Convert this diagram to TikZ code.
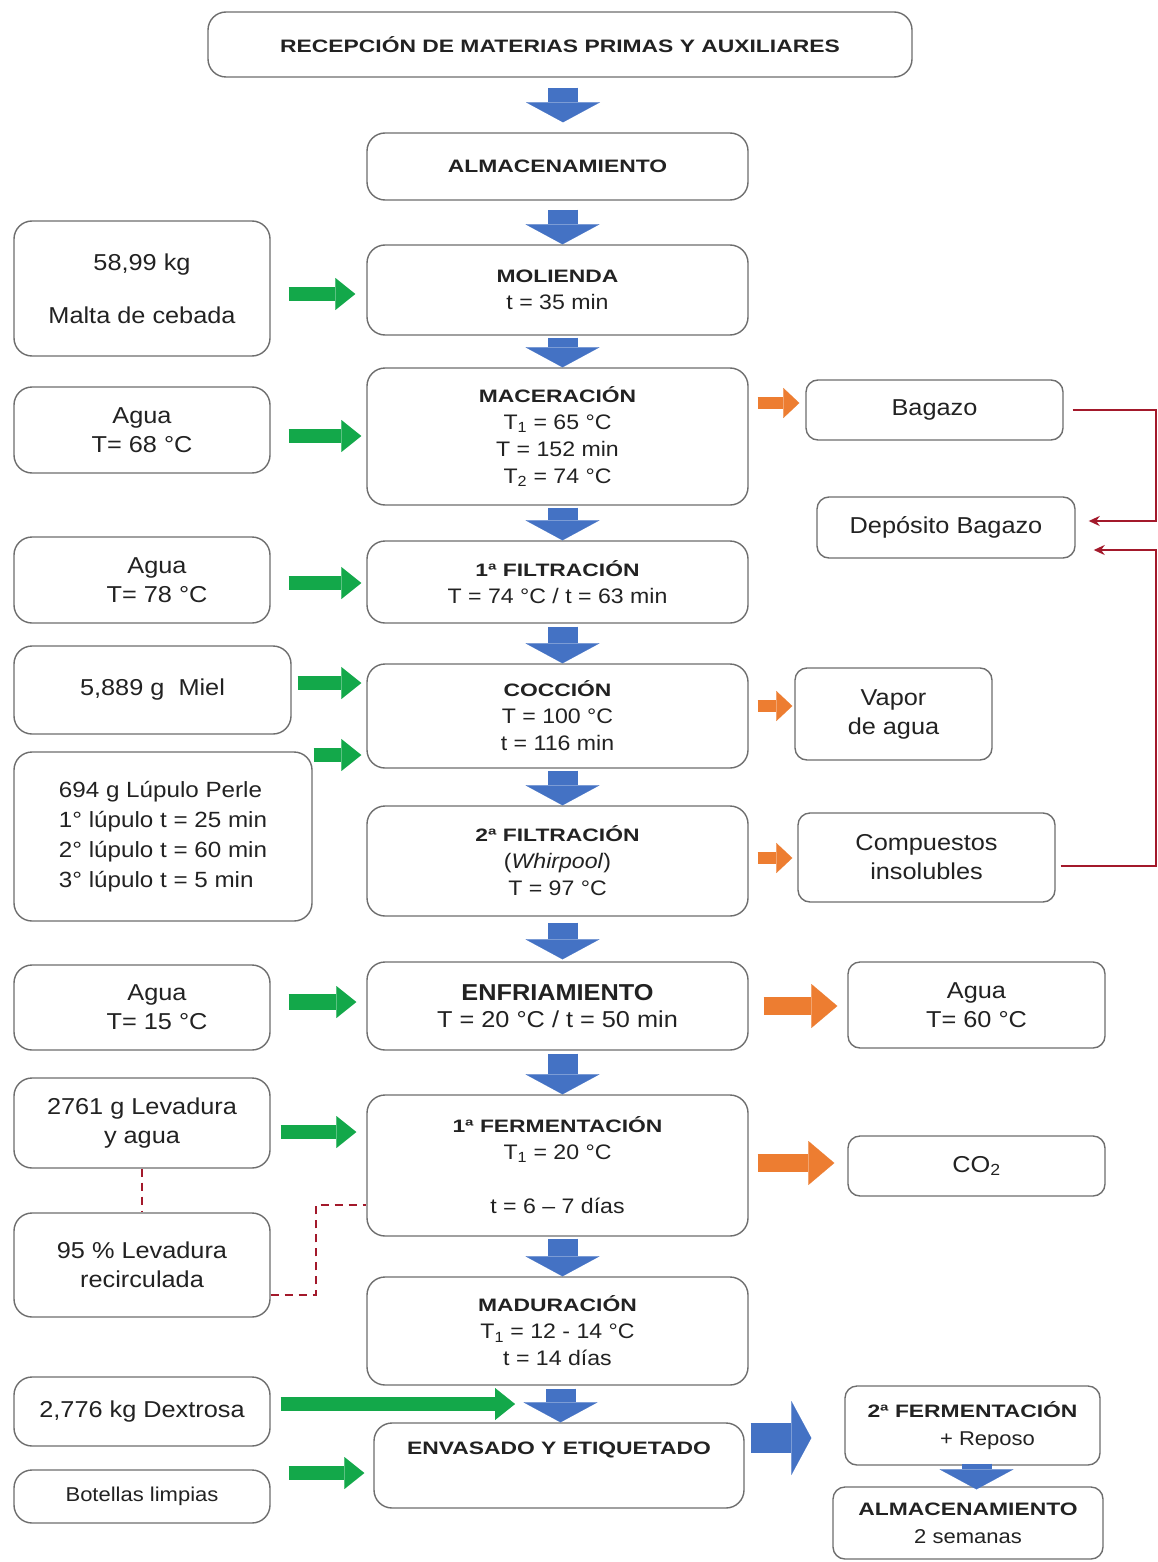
\documentclass[tikz,border=0pt]{standalone}
\usepackage{fontspec}
\setmainfont{Liberation Sans}[FakeStretch=1.1]
\newfontfamily\bfont{Liberation Sans}[FakeStretch=1.27]
\usetikzlibrary{arrows.meta}
\newcommand\tb[1]{{\bfont\bfseries\fontsize{18}{27}\selectfont #1}}
\definecolor{bblue}{HTML}{4472C4}
\definecolor{ggreen}{HTML}{13A84A}
\definecolor{oorange}{HTML}{ED7D31}
\definecolor{dred}{HTML}{A3192B}
\definecolor{bordergray}{HTML}{6E6E6E}
\definecolor{txt}{HTML}{222222}
\tikzset{
  box/.style={draw=bordergray, line width=1.4pt, rounded corners=18pt, inner sep=0pt, align=center, text=txt},
  stepbox/.style={box, font=\fontsize{21}{27}\selectfont},
  sidebox/.style={box, font=\fontsize{23}{29}\selectfont},
  rbox/.style={box, rounded corners=12pt, font=\fontsize{23}{29}\selectfont},
  barrow/.style={line width=30pt, draw=bblue, -{Triangle[width=74pt,length=20pt,line width=0.1pt]}},
  garrow/.style={line width=14pt, draw=ggreen, -{Triangle[width=32pt,length=20pt,line width=0.1pt]}},
  oarrow/.style={line width=12pt, draw=oorange, -{Triangle[width=30pt,length=16pt,line width=0.1pt]}},
  obig/.style={line width=18pt, draw=oorange, -{Triangle[width=44pt,length=26pt,line width=0.1pt]}},
  redline/.style={draw=dred, line width=2pt, -{Stealth[length=11pt,width=10pt]}},
  reddash/.style={draw=dred, line width=1.6pt, dash pattern=on 8pt off 6pt},
}
\begin{document}
\begin{tikzpicture}[x=1pt,y=-1pt]
\useasboundingbox[fill=white] (0,0) rectangle (1158,1562);
% main column
\node[stepbox, minimum width=704pt, minimum height=65pt] (rec) at (560,44.5) {\tb{RECEPCIÓN DE MATERIAS PRIMAS Y AUXILIARES}};
\node[stepbox, minimum width=381pt, minimum height=67pt] (alm1) at (557.5,166.5) {\tb{ALMACENAMIENTO}};
\node[stepbox, minimum width=381pt, minimum height=90pt] (mol) at (557.5,290) {\tb{MOLIENDA}\\ t = 35 min};
\node[stepbox, minimum width=381pt, minimum height=137pt] (mac) at (557.5,436.5) {\tb{MACERACIÓN}\\ T\textsubscript{1} = 65 °C\\ T = 152 min\\ T\textsubscript{2} = 74 °C};
\node[stepbox, minimum width=381pt, minimum height=82pt] (fil1) at (557.5,582) {\tb{1ª FILTRACIÓN}\\ T = 74 °C / t = 63 min};
\node[stepbox, minimum width=381pt, minimum height=104pt] (coc) at (557.5,716) {\tb{COCCIÓN}\\ T = 100 °C\\ t = 116 min};
\node[stepbox, minimum width=381pt, minimum height=110pt] (fil2) at (557.5,861) {\tb{2ª FILTRACIÓN}\\ (\textit{Whirpool})\\ T = 97 °C};
\node[stepbox, minimum width=381pt, minimum height=88pt, font=\fontsize{23}{27}\selectfont] (enf) at (557.5,1006) {\textbf{ENFRIAMIENTO}\\ T = 20 °C / t = 50 min};
\node[stepbox, minimum width=381pt, minimum height=141pt] (fer1) at (557.5,1165.5) {\tb{1ª FERMENTACIÓN}\\ T\textsubscript{1} = 20 °C\\ \strut\\ t = 6 – 7 días};
\node[stepbox, minimum width=381pt, minimum height=108pt] (mad) at (557.5,1331) {\tb{MADURACIÓN}\\ T\textsubscript{1} = 12 - 14 °C\\ t = 14 días};
\node[stepbox, minimum width=370pt, minimum height=85pt] (env) at (559,1465.5) {\tb{ENVASADO Y ETIQUETADO}\\ \strut};
% left column
\node[sidebox, minimum width=256pt, minimum height=135pt] (l1) at (142,288.5) {58,99 kg\\[24pt] Malta de cebada};
\node[sidebox, minimum width=256pt, minimum height=86pt] (l2) at (142,430) {Agua\\ T= 68 °C};
\node[sidebox, minimum width=256pt, minimum height=86pt] (l3) at (142,580) {\hspace*{30pt}Agua\\ \hspace*{30pt}T= 78 °C};
\node[sidebox, minimum width=277pt, minimum height=88pt] (l4) at (152.5,690) {5,889 g\ \ Miel};
\node[sidebox, minimum width=298pt, minimum height=169pt, align=left, font=\fontsize{22}{30}\selectfont] (l5) at (163,836.5) {694 g Lúpulo Perle\\ 1° lúpulo t = 25 min\\ 2° lúpulo t = 60 min\\ 3° lúpulo t = 5 min};
\node[sidebox, minimum width=256pt, minimum height=85pt] (l6) at (142,1007.5) {\hspace*{30pt}Agua\\ \hspace*{30pt}T= 15 °C};
\node[sidebox, minimum width=256pt, minimum height=90pt] (l7) at (142,1123) {2761 g Levadura\\ y agua};
\node[sidebox, minimum width=256pt, minimum height=104pt] (l8) at (142,1265) {95 \% Levadura\\ recirculada};
\node[sidebox, minimum width=256pt, minimum height=69pt] (l9) at (142,1411.5) {2,776 kg Dextrosa};
\node[sidebox, minimum width=256pt, minimum height=53pt, font=\fontsize{20}{26}\selectfont] (l10) at (142,1496.5) {Botellas limpias};
% right column
\node[rbox, minimum width=257pt, minimum height=60pt] (r1) at (934.5,410) {Bagazo};
\node[rbox, minimum width=258pt, minimum height=61pt] (r2) at (946,527.5) {Depósito Bagazo};
\node[rbox, minimum width=197pt, minimum height=92pt] (r3) at (893.5,714) {Vapor\\ de agua};
\node[rbox, minimum width=257pt, minimum height=89pt] (r4) at (926.5,857.5) {Compuestos\\ insolubles};
\node[rbox, minimum width=257pt, minimum height=86pt] (r5) at (976.5,1005) {Agua\\ T= 60 °C};
\node[rbox, minimum width=257pt, minimum height=60pt] (r6) at (976.5,1166) {CO\textsubscript{2}};
\node[rbox, minimum width=255pt, minimum height=79pt, font=\fontsize{20}{28}\selectfont] (r7) at (972.5,1425.5) {\tb{2ª FERMENTACIÓN}\\ \hspace*{1.5em}+ Reposo};
\node[rbox, minimum width=270pt, minimum height=72pt, font=\fontsize{20}{28}\selectfont] (r8) at (968,1523) {\tb{ALMACENAMIENTO}\\ 2 semanas};
% blue arrows
\draw[barrow, shorten <=10pt, shorten >=10pt] ([xshift=3pt]rec.south) -- ([xshift=3pt]rec.south |- alm1.north);
\draw[barrow, shorten <=9pt] ([xshift=5pt]alm1.south) -- ([xshift=5pt]mol.north);
\draw[barrow, shorten <=2pt] ([xshift=5pt]mol.south) -- ([xshift=5pt]mac.north);
\draw[barrow, shorten <=2pt] ([xshift=5pt]mac.south) -- ([xshift=5pt]fil1.north);
\draw[barrow, shorten <=3pt] ([xshift=5pt]fil1.south) -- ([xshift=5pt]coc.north);
\draw[barrow, shorten <=2pt] ([xshift=5pt]coc.south) -- ([xshift=5pt]fil2.north);
\draw[barrow, shorten <=6pt, shorten >=2pt] ([xshift=5pt]fil2.south) -- ([xshift=5pt]enf.north);
\draw[barrow, shorten <=3pt] ([xshift=5pt]enf.south) -- ([xshift=5pt]fer1.north);
\draw[barrow, shorten <=2pt] ([xshift=5pt]fer1.south) -- ([xshift=5pt]mad.north);
\draw[barrow, shorten <=3pt] ([xshift=3pt]mad.south) -- ([xshift=3pt]mad.south |- env.north);
\draw[barrow, shorten <=6pt, shorten >=33pt] (env.east |- 0,1438) -- (r7.west |- 0,1438);
\draw[barrow, shorten <=-2pt, shorten >=-3pt] ([xshift=4pt]r7.south) -- ([xshift=4pt]r7.south |- r8.north);
% green arrows
\coordinate (dx) at (515,1404);
\draw[garrow, shorten <=18pt, shorten >=11pt] (l1.east |- 0,294) -- (mol.west |- 0,294);
\draw[garrow, shorten <=18pt, shorten >=5pt] (l2.east |- 0,436) -- (mac.west |- 0,436);
\draw[garrow, shorten <=18pt, shorten >=5pt] (l3.east |- 0,583) -- (fil1.west |- 0,583);
\draw[garrow, shorten <=6pt, shorten >=5pt] (l4.east |- 0,683) -- (coc.west |- 0,683);
\draw[garrow, shorten <=1pt, shorten >=5pt] (l5.east |- 0,755) -- (coc.west |- 0,755);
\draw[garrow, line width=16pt, shorten <=18pt, shorten >=10pt] (l6.east |- 0,1002) -- (enf.west |- 0,1002);
\draw[garrow, shorten <=10pt, shorten >=10pt] (l7.east |- 0,1132) -- (fer1.west |- 0,1132);
\draw[garrow, shorten <=10pt] (l9.east |- 0,1404) -- (dx);
\draw[garrow, shorten <=18pt, shorten >=9pt] (l10.east |- 0,1473) -- (env.west |- 0,1473);
% orange arrows
\draw[oarrow, shorten <=9pt, shorten >=6pt] (mac.east |- 0,403) -- (r1.west |- 0,403);
\draw[oarrow, shorten <=9pt, shorten >=2pt] (coc.east |- 0,706) -- (r3.west |- 0,706);
\draw[oarrow, shorten <=9pt, shorten >=5pt] (fil2.east |- 0,858) -- (r4.west |- 0,858);
\draw[obig, shorten <=15pt, shorten >=10pt] (enf.east |- 0,1006) -- (r5.west |- 0,1006);
\draw[obig, shorten <=9pt, shorten >=13pt] (fer1.east |- 0,1163) -- (r6.west |- 0,1163);
% red connectors
\coordinate (rx) at (1156,0);
\draw[redline, shorten <=9pt, shorten >=13pt] (r1.east) -- (rx |- r1.east) |- (r2.east |- 0,521);
\draw[redline, shorten <=5pt, shorten >=18pt] (r4.east |- 0,866) -- (rx |- 0,866) |- (r2.east |- 0,550);
% dashed red
\coordinate (dj) at (316,1205);
\draw[reddash] (l7.south) -- (l8.north);
\draw[reddash] (l8.east |- 0,1295) -| (dj) -- (fer1.west |- dj);
\end{tikzpicture}
\end{document}
